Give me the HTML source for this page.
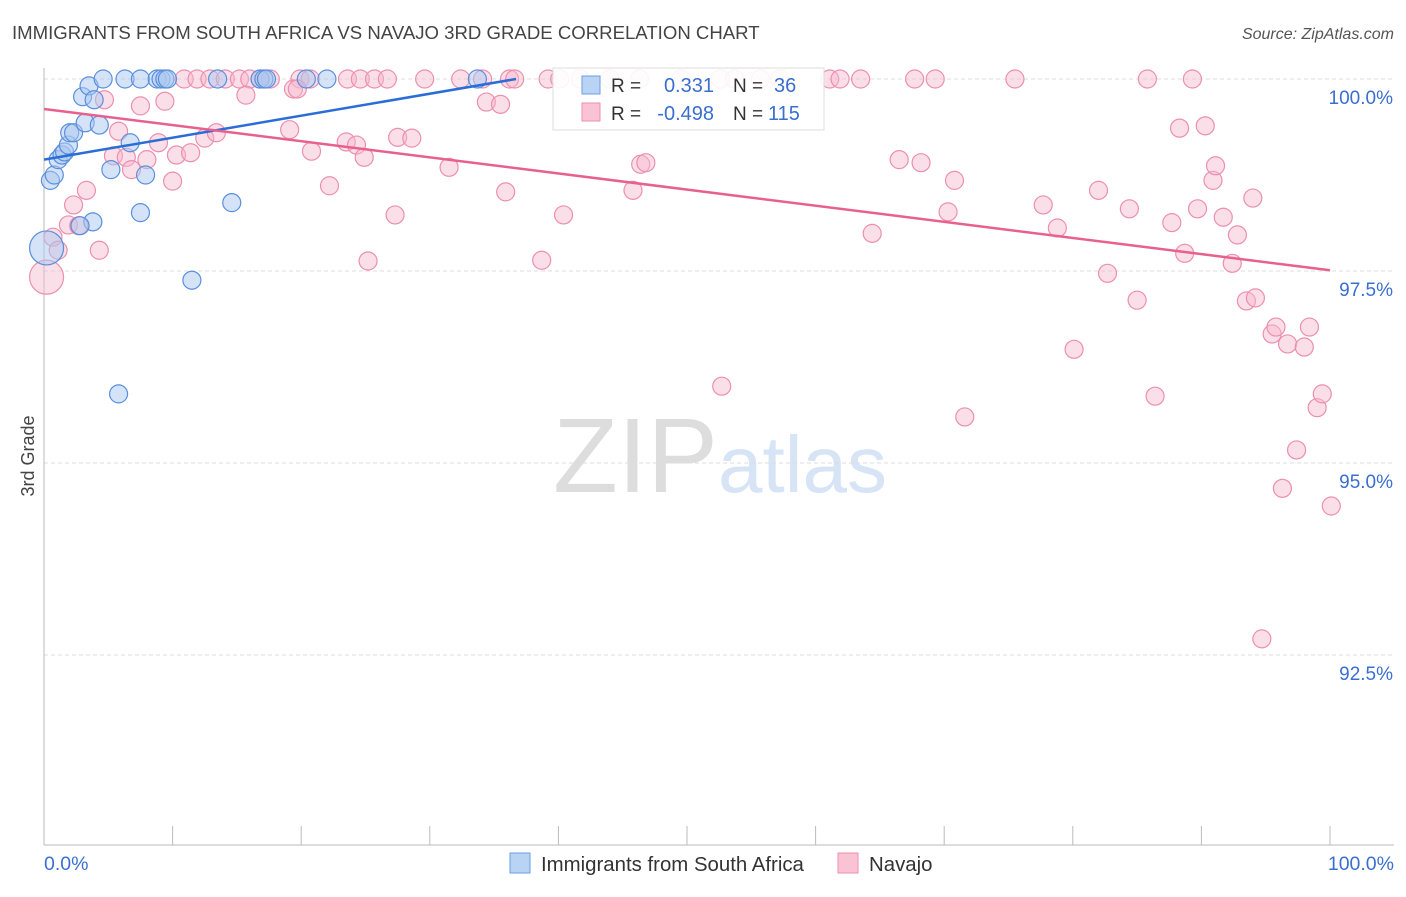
<!DOCTYPE html>
<html><head><meta charset="utf-8"><style>
body{margin:0;background:#fff;font-family:"Liberation Sans",sans-serif}
svg text{font-family:"Liberation Sans",sans-serif}
</style></head><body>
<svg id="chart" width="1406" height="892" xmlns="http://www.w3.org/2000/svg">
<text x="12" y="39" font-size="18.6" fill="#444">IMMIGRANTS FROM SOUTH AFRICA VS NAVAJO 3RD GRADE CORRELATION CHART</text>
<text x="1394" y="39" font-size="16" fill="#555" text-anchor="end" font-style="italic">Source: ZipAtlas.com</text>
<text transform="translate(34,456) rotate(-90)" font-size="18" fill="#444" text-anchor="middle">3rd Grade</text>
<g>
<text x="553" y="492" font-size="106" fill="#ddd" font-family="Liberation Serif, serif">ZIP</text>
<text x="718" y="492" font-size="80" fill="#d6e4f5">atlas</text>
</g>
<g id="grid"></g>
<g id="axes"></g>
<g id="pts"></g>
<g id="lines"></g>
<g>
<rect x="553" y="68" width="271" height="62" fill="#fff" fill-opacity="0.9" stroke="#ddd"/>
<rect x="582" y="76" width="18" height="18" fill="#b9d3f5" stroke="#6d9fe0"/>
<rect x="582" y="103" width="18" height="18" fill="#f9c3d3" stroke="#ee8fae"/>
<text x="611" y="92" font-size="19" fill="#333">R =</text>
<text x="714" y="92" font-size="20" fill="#3a6fd0" text-anchor="end">0.331</text>
<text x="733" y="92" font-size="19" fill="#333">N =</text>
<text x="774" y="92" font-size="20" fill="#3a6fd0">36</text>
<text x="611" y="120" font-size="19" fill="#333">R =</text>
<text x="714" y="120" font-size="20" fill="#3a6fd0" text-anchor="end">-0.498</text>
<text x="733" y="120" font-size="19" fill="#333">N =</text>
<text x="768" y="120" font-size="20" fill="#3a6fd0">115</text>
</g>
<g>
<rect x="510" y="853" width="20" height="20" fill="#b9d3f5" stroke="#6d9fe0"/>
<text x="541" y="871" font-size="20.4" fill="#333">Immigrants from South Africa</text>
</g>
<g>
<rect x="838" y="853" width="20" height="20" fill="#f9c3d3" stroke="#ee8fae"/>
<text x="869" y="871" font-size="20.4" fill="#333">Navajo</text>
</g>
</svg>
<script>
const yTicks=[100,97.5,95,92.5];
const yTickLabels=["100.0%","97.5%","95.0%","92.5%"];
const xTickLabels=["0.0%","100.0%"];
const blueX=[0.5,0.8,1.1,1.4,1.6,1.9,2.0,2.3,3.0,3.2,3.5,3.9,4.3,4.6,5.2,6.3,6.7,7.5,7.5,7.9,8.8,9.1,9.4,9.6,11.5,13.5,14.6,16.8,17.1,17.3,20.4,22.0,33.7,5.8,0.2,3.8,2.8];
const blueY=[98.68,98.75,98.95,99.01,99.05,99.14,99.30,99.30,99.77,99.43,99.91,99.73,99.40,100,98.82,100,99.17,100,98.26,98.75,100,100,100,100,97.38,100,98.39,100,100,100,100,100,100,95.90,97.80,98.14,98.09];
const blueBig=[34];
const pinkX=[10.9,11.9,12.9,14.1,15.2,16.0,16.8,17.6,19.9,20.7,23.6,24.6,25.7,26.7,29.6,32.4,34.1,36.2,36.6,39.2,40.1,41.7,44.0,46.3,49.5,52.6,53.7,55.7,57.2,61.1,61.9,63.5,67.7,69.3,75.5,85.8,89.3,
4.7,7.5,9.4,15.7,19.4,19.7,5.8,5.4,6.4,8.0,6.8,8.9,10.3,11.4,12.5,13.4,10.0,3.3,2.3,1.9,2.7,4.3,0.7,1.1,0.2,19.1,20.8,22.2,23.5,24.3,24.9,27.3,25.2,27.5,28.6,31.5,34.4,35.5,35.9,40.4,38.7,45.8,46.4,46.8,52.7,64.4,66.5,68.2,70.8,70.3,71.6,77.7,78.8,80.1,82.0,82.7,84.4,85.0,86.4,87.7,88.3,88.7,89.7,90.3,90.9,91.1,91.7,92.4,92.8,93.5,94.0,94.2,94.7,95.5,95.8,96.3,96.7,97.4,98.0,98.4,99.0,99.4,100.1];
const pinkY=[100,100,100,100,100,100,100,100,100,100,100,100,100,100,100,100,100,100,100,100,100,100,100,100,100,100,100,100,100,100,100,100,100,100,100,100,100,
99.73,99.65,99.71,99.79,99.87,99.87,99.32,99.0,98.98,98.95,98.82,99.17,99.01,99.04,99.23,99.30,98.67,98.55,98.36,98.10,98.09,97.77,97.94,97.77,97.42,99.34,99.06,98.61,99.18,99.14,98.98,98.23,97.63,99.24,99.23,98.85,99.70,99.67,98.53,98.23,97.64,98.55,98.89,98.91,96.00,97.99,98.95,98.91,98.68,98.27,95.60,98.36,98.06,96.48,98.55,97.47,98.31,97.12,95.87,98.13,99.36,97.73,98.31,99.39,98.68,98.87,98.20,97.60,97.97,97.11,98.45,97.15,92.71,96.68,96.77,94.67,96.55,95.17,96.51,96.77,95.72,95.90,94.44];
const pinkBig=[61];
const blueTrend=[[0,98.95],[36.7,100]];
const pinkTrend=[[0,99.61],[100,97.51]];
const NS='http://www.w3.org/2000/svg';
function sx(v){return 44+v*12.86;}
function sy(v){return 79+(100-v)*76.8;}
function mk(tag,attrs,parent){const e=document.createElementNS(NS,tag);for(const k in attrs)e.setAttribute(k,attrs[k]);parent.appendChild(e);return e;}
const grid=document.getElementById('grid'),axes=document.getElementById('axes'),pts=document.getElementById('pts'),lines=document.getElementById('lines');
yTicks.forEach((t,i)=>{
  const l=mk('line',{x1:44,x2:1394,y1:sy(t),y2:sy(t),stroke:'#ddd','stroke-dasharray':'4,3'},grid);
  
  
  const tx=mk('text',{x:1393,y:sy(t)+25,'font-size':19,fill:'#3a6fd0','text-anchor':'end'},axes);
  tx.textContent=yTickLabels[i];
  
  
});
const ya=mk('line',{x1:44,x2:44,y1:68,y2:845,stroke:'#bbb'},axes);


const xa=mk('line',{x1:44,x2:1394,y1:845,y2:845,stroke:'#bbb'},axes);


for(let i=0;i<=10;i++){
  const tk=mk('line',{x1:sx(i*10),x2:sx(i*10),y1:826,y2:845,stroke:'#bbb'},axes);
  
  
}
const xl0=mk('text',{x:44,y:870,'font-size':19.5,fill:'#3a6fd0'},axes);xl0.textContent=xTickLabels[0];


const xl1=mk('text',{x:1394,y:870,'font-size':19.5,fill:'#3a6fd0','text-anchor':'end'},axes);xl1.textContent=xTickLabels[1];


pinkX.forEach((x,i)=>{
  const c=mk('circle',{cx:sx(x),cy:sy(pinkY[i]),r:pinkBig.includes(i)?17:9,fill:'#f7b8cb','fill-opacity':0.45,stroke:'#ec8fae','stroke-width':1.2},pts);
  
  
});
blueX.forEach((x,i)=>{
  const c=mk('circle',{cx:sx(x),cy:sy(blueY[i]),r:blueBig.includes(i)?17:9,fill:'#a9c8f0','fill-opacity':0.5,stroke:'#5a8fdc','stroke-width':1.2},pts);
  
  
});
const bl=mk('line',{x1:sx(blueTrend[0][0]),y1:sy(blueTrend[0][1]),x2:sx(blueTrend[1][0]),y2:sy(blueTrend[1][1]),stroke:'#2a6dd6','stroke-width':2.5},lines);


const pl=mk('line',{x1:sx(pinkTrend[0][0]),y1:sy(pinkTrend[0][1]),x2:sx(pinkTrend[1][0]),y2:sy(pinkTrend[1][1]),stroke:'#e8608e','stroke-width':2.5},lines);


</script>
</body></html>
